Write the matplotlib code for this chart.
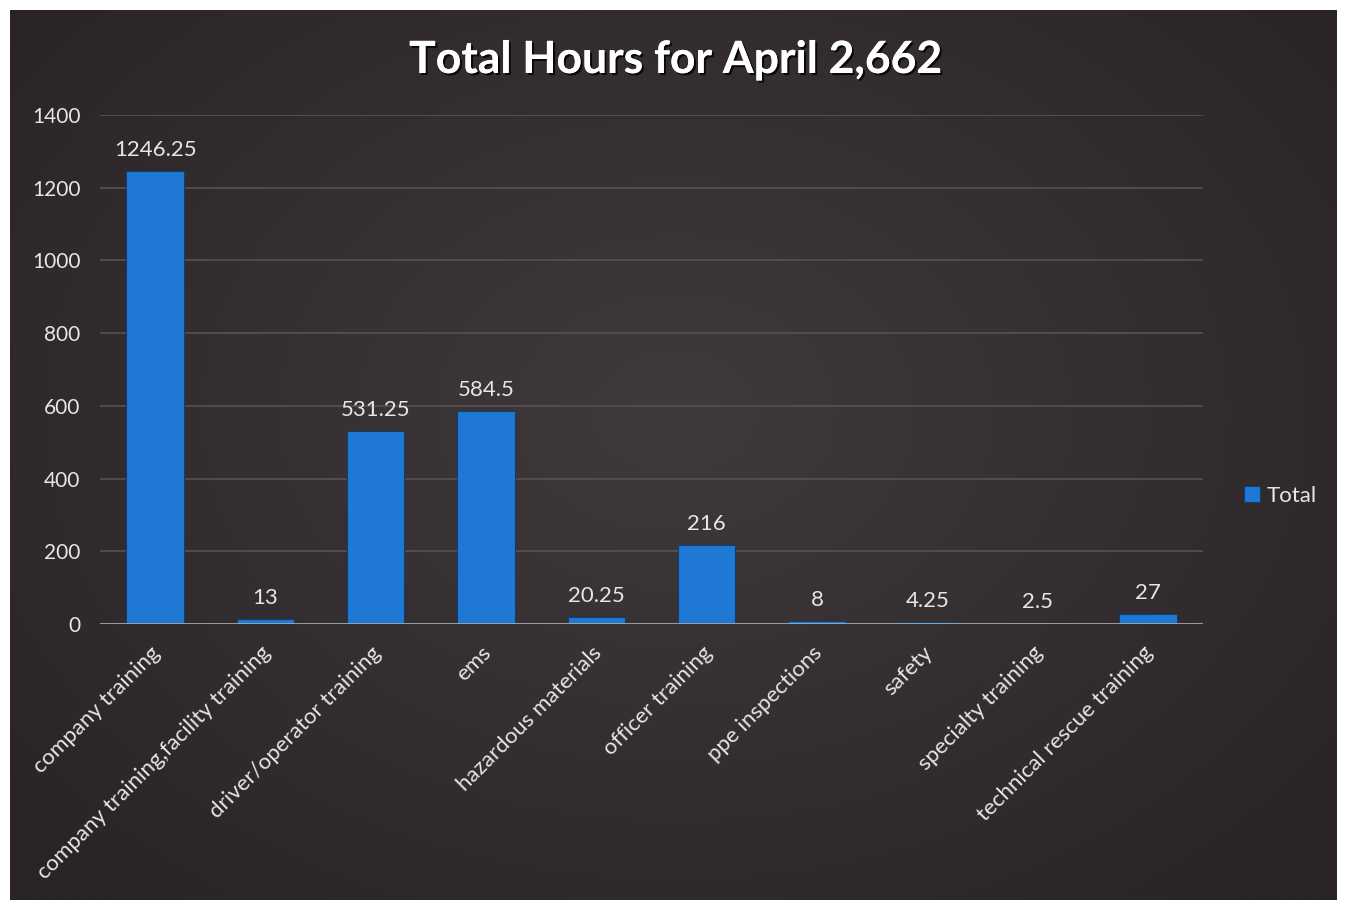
import numpy as np
import matplotlib
matplotlib.use("Agg")
import matplotlib.pyplot as plt
import matplotlib.patheffects as pe

categories = ["company training", "company training,facility training",
              "driver/operator training", "ems", "hazardous materials",
              "officer training", "ppe inspections", "safety",
              "specialty training", "technical rescue training"]
values = [1246.25, 13, 531.25, 584.5, 20.25, 216, 8, 4.25, 2.5, 27]
value_labels = ["1246.25", "13", "531.25", "584.5", "20.25", "216", "8", "4.25", "2.5", "27"]
yticks = [0, 200, 400, 600, 800, 1000, 1200, 1400]
title = "Total Hours for April 2,662"
series_name = "Total"

W, H = 1348, 900
fig = plt.figure(figsize=(W / 100, H / 100), dpi=100, facecolor="white")

# dark radial-gradient background panel
bg = fig.add_axes([10 / W, 0, (1337 - 10) / W, 890 / H])
yy, xx = np.mgrid[0:200, 0:300]
r = np.sqrt(((xx - 150) / 150) ** 2 + ((yy - 90) / 110) ** 2)
r = np.clip(r / 1.3, 0, 1)
c0 = np.array([0x40, 0x3a, 0x3c]) / 255
c1 = np.array([0x2a, 0x24, 0x26]) / 255
img = c0[None, None, :] * (1 - r[..., None]) + c1[None, None, :] * r[..., None]
bg.imshow(img, aspect="auto", extent=[0, 1, 0, 1], interpolation="bilinear")
bg.set_axis_off()

fam = ["Lato", "DejaVu Sans"]
txt_color = "#e6e6e6"

ax = fig.add_axes([100 / W, 1 - 624 / H, (1203 - 100) / W, (624 - 115) / H])
ax.patch.set_alpha(0)
x = np.arange(len(categories))
bars = ax.bar(x, values, width=0.52, color="#1f79d4", edgecolor="#0d3f73",
              linewidth=0.8, label=series_name, zorder=3)
ax.set_xlim(-0.5, len(categories) - 0.5)
ax.set_ylim(0, 1400)
ax.set_yticks(yticks)
ax.set_yticklabels([str(t) for t in yticks], fontsize=15, color=txt_color, family=fam)
ax.tick_params(axis="y", length=0, pad=14)
ax.tick_params(axis="x", length=0, pad=4)
for t in yticks[1:]:
    ax.axhline(t, color="#575152", linewidth=1.2, zorder=1)
ax.axhline(0, color="#a8a6a6", linewidth=2, zorder=4)
for s in ax.spines.values():
    s.set_visible(False)

ax.set_xticks(x)
ax.set_xticklabels(categories, rotation=45, ha="right", rotation_mode="anchor",
                   fontsize=16, color=txt_color, family=fam)
for lbl in ax.get_xticklabels():
    lbl.set_transform(lbl.get_transform() + matplotlib.transforms.ScaledTranslation(-5 / 100, -13 / 100, fig.dpi_scale_trans))

for xi, v, s in zip(x, values, value_labels):
    ax.annotate(s, (xi, v), xytext=(0, 8), textcoords="offset points",
                ha="center", va="bottom", fontsize=16, color=txt_color, family=fam)

fig.text(676 / W, 1 - 60 / H, title, ha="center", va="center", fontsize=32,
         fontweight="bold", color="white", family=fam,
         path_effects=[pe.withSimplePatchShadow(offset=(1.5, -1.5), shadow_rgbFace="black", alpha=0.8), pe.Normal()])

leg = fig.legend(handles=[bars], labels=[series_name], loc="center left",
                 bbox_to_anchor=(1224 / W, 1 - 496 / H), frameon=False,
                 handlelength=0.7, handleheight=0.7, handletextpad=0.3,
                 prop={"family": fam, "size": 16})
for t in leg.get_texts():
    t.set_color(txt_color)

fig.savefig("out.png", dpi=100, facecolor="white")
